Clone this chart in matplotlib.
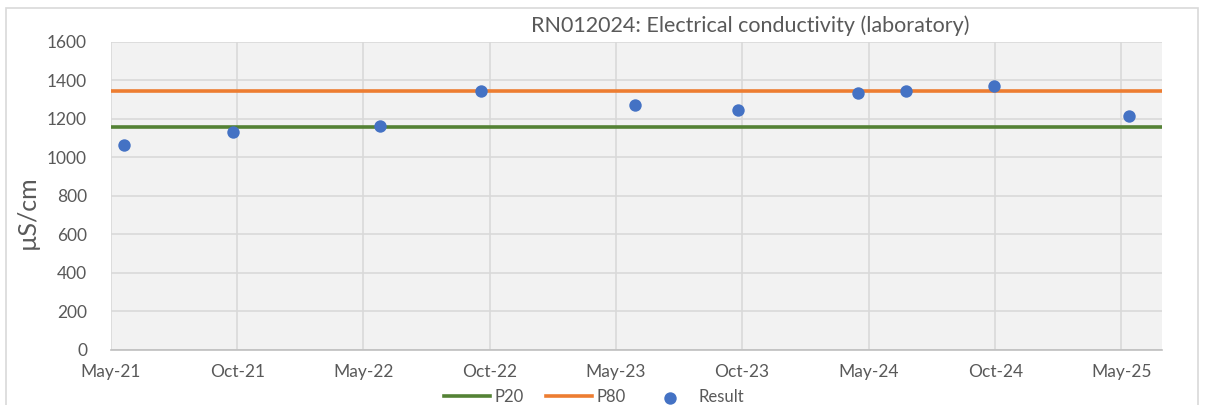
import matplotlib
matplotlib.use("Agg")
import matplotlib.pyplot as plt
import matplotlib.dates as mdates
import matplotlib.patches as mpatches
import numpy as np
import pandas as pd

# ── Data ──────────────────────────────────────────────────────────────────────
SAMPLE_DATES = ["2021-05-20", "2021-10-25", "2022-05-26", "2022-10-18", "2023-05-29",
                "2023-10-25", "2024-04-16", "2024-06-24", "2024-10-29", "2025-05-12"]
RESULTS = [1063, 1132, 1162, 1342, 1271, 1244, 1332, 1342, 1371, 1212]
P20 = 1157
P80 = 1342

TICK_DATES = ["2021-05-01", "2021-10-31", "2022-05-01", "2022-10-31", "2023-05-01",
              "2023-10-31", "2024-05-01", "2024-10-31", "2025-05-01"]
AXIS_START = "2021-05-01"
AXIS_END = "2025-06-29"

TITLE = "RN012024: Electrical conductivity (laboratory)"
YLABEL = "µS/cm"

# ── Style ─────────────────────────────────────────────────────────────────────
plt.rcParams.update({
    "font.family": ["Lato", "DejaVu Sans"],
    "font.size": 12,
})
TXT = "#595959"
GRID = "#D9D9D9"

fig = plt.figure(figsize=(12.08, 4.05), dpi=100)
ax = fig.add_axes([110.7 / 1208, 1 - 349.7 / 405, (1162 - 110.7) / 1208, (349.7 - 41.7) / 405])
ax.set_facecolor("#F2F2F2")

dates = pd.to_datetime(SAMPLE_DATES)
start = pd.Timestamp(AXIS_START)
end = pd.Timestamp(AXIS_END)

ax.plot([start, end], [P20, P20], color="#548235", lw=2.6, label="P20", zorder=3)
ax.plot([start, end], [P80, P80], color="#ED7D31", lw=2.6, label="P80", zorder=3)
ax.scatter(dates, RESULTS, s=80, color="#4472C4", label="Result", zorder=4, linewidths=0)

ax.set_xticks(pd.to_datetime(TICK_DATES))
ax.xaxis.set_major_formatter(mdates.DateFormatter("%b-%y"))
ax.set_xlim(start, end)
ax.set_ylim(0, 1600)
ax.set_yticks(np.arange(0, 1601, 200))

ax.grid(True, color=GRID, lw=1.2, zorder=1)
ax.set_axisbelow(True)
for s in ["top", "right", "left"]:
    ax.spines[s].set_visible(False)
ax.spines["bottom"].set_color("#BFBFBF")
ax.spines["bottom"].set_linewidth(1.2)
ax.tick_params(length=0, colors=TXT, labelsize=12.5)
ax.tick_params(axis="y", pad=17)
ax.tick_params(axis="x", pad=10)

ax.set_ylabel(YLABEL, color=TXT, fontsize=18)
ax.yaxis.set_label_coords(-72 / 1051, (349.7 - 212) / 308)

fig.text(750 / 1208, 1 - 26 / 405, TITLE, ha="center", va="center",
         color=TXT, fontsize=15.5)

# outer chart frame (cut off at bottom like the source)
fig.patches.append(mpatches.Rectangle((6 / 1208, -0.1), (1198 - 6) / 1208, 1.1 - 8 / 405,
                                      transform=fig.transFigure, fill=False,
                                      edgecolor=GRID, lw=1.2))

leg = fig.legend(loc="center", bbox_to_anchor=(594 / 1208, 1 - 397 / 405), ncol=3,
                 frameon=False, handlelength=2.75, columnspacing=1.3, handletextpad=0.3,
                 fontsize=12, scatterpoints=1)
for t in leg.get_texts():
    t.set_color(TXT)

fig.savefig("out.png", dpi=100)
